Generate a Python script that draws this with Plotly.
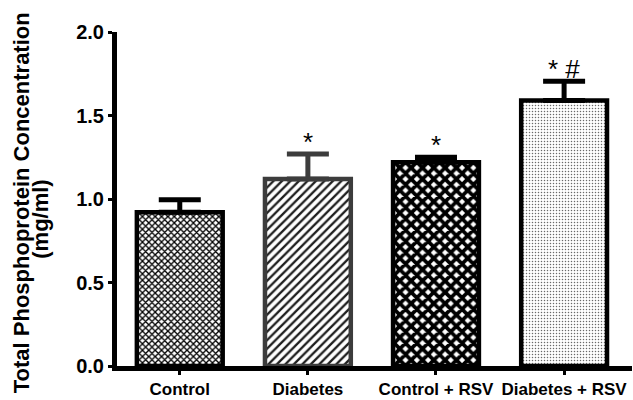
import plotly.graph_objects as go

# Group means and SEM (upper error only)
groups = ["Control", "Diabetes", "Control + RSV", "Diabetes + RSV"]
means = [0.92, 1.12, 1.22, 1.59]
sems = [0.075, 0.15, 0.03, 0.115]
marks = ["", "*", "*", "* #"]

# Fill style per group
outline = ["#000000", "#3c3c3c", "#000000", "#000000"]
shapes = ["x", "/", "x", "."]
pat_fg = ["#000000", "#1e1e1e", "#000000", "#6a6a6a"]
pat_size = [4.5, 6, 8, 3]
pat_solid = [0.5, 0.38, 0.72, 0.2]

FONT = "Liberation Sans, Arial, sans-serif"

fig = go.Figure()
for i, g in enumerate(groups):
    fig.add_trace(go.Bar(
        x=[i], y=[means[i]], width=0.67,
        marker=dict(
            color="white",
            line=dict(color=outline[i], width=4.5),
            pattern=dict(shape=shapes[i], fgcolor=pat_fg[i], bgcolor="white",
                         size=pat_size[i], solidity=pat_solid[i],
                         fillmode="overlay", fgopacity=1),
        ),
        error_y=dict(type="data", symmetric=False, array=[sems[i]], arrayminus=[0],
                     color=outline[i], thickness=5, width=21),
        showlegend=False,
    ))
    if marks[i]:
        fig.add_annotation(x=i, y=means[i] + sems[i], text=marks[i], showarrow=False,
                           yanchor="bottom", yshift=-5,
                           font=dict(family=FONT, size=26, color="black"))

# y-axis title, two lines
fig.add_annotation(xref="paper", yref="paper", x=-0.186, y=0.488, textangle=-90,
                   text="Total Phosphoprotein Concentration", showarrow=False,
                   xanchor="center", yanchor="middle",
                   font=dict(family=FONT, size=22, color="black", weight="bold"))
fig.add_annotation(xref="paper", yref="paper", x=-0.1475, y=0.438, textangle=-90,
                   text="(mg/ml)", showarrow=False,
                   xanchor="center", yanchor="middle",
                   font=dict(family=FONT, size=22, color="black", weight="bold"))

fig.update_layout(
    width=633, height=400,
    margin=dict(l=117, r=1, t=32, b=30),
    paper_bgcolor="white", plot_bgcolor="white",
    barmode="overlay",
    xaxis=dict(
        range=[-0.49, 3.53], tickmode="array", tickvals=list(range(len(groups))),
        ticktext=groups, showgrid=False, zeroline=False,
        showline=True, linecolor="black", linewidth=5,
        ticks="outside", ticklen=4, tickwidth=3, tickcolor="black",
        tickfont=dict(family=FONT, size=17, color="black", weight="bold"),
    ),
    yaxis=dict(
        range=[0, 2.0], tickvals=[0, 0.5, 1.0, 1.5, 2.0], tickformat=".1f",
        showgrid=False, zeroline=False,
        showline=True, linecolor="black", linewidth=5,
        ticks="outside", ticklen=4, tickwidth=3, tickcolor="black",
        tickfont=dict(family=FONT, size=20, color="black", weight="bold"),
    ),
)

fig.write_html("out.html")
